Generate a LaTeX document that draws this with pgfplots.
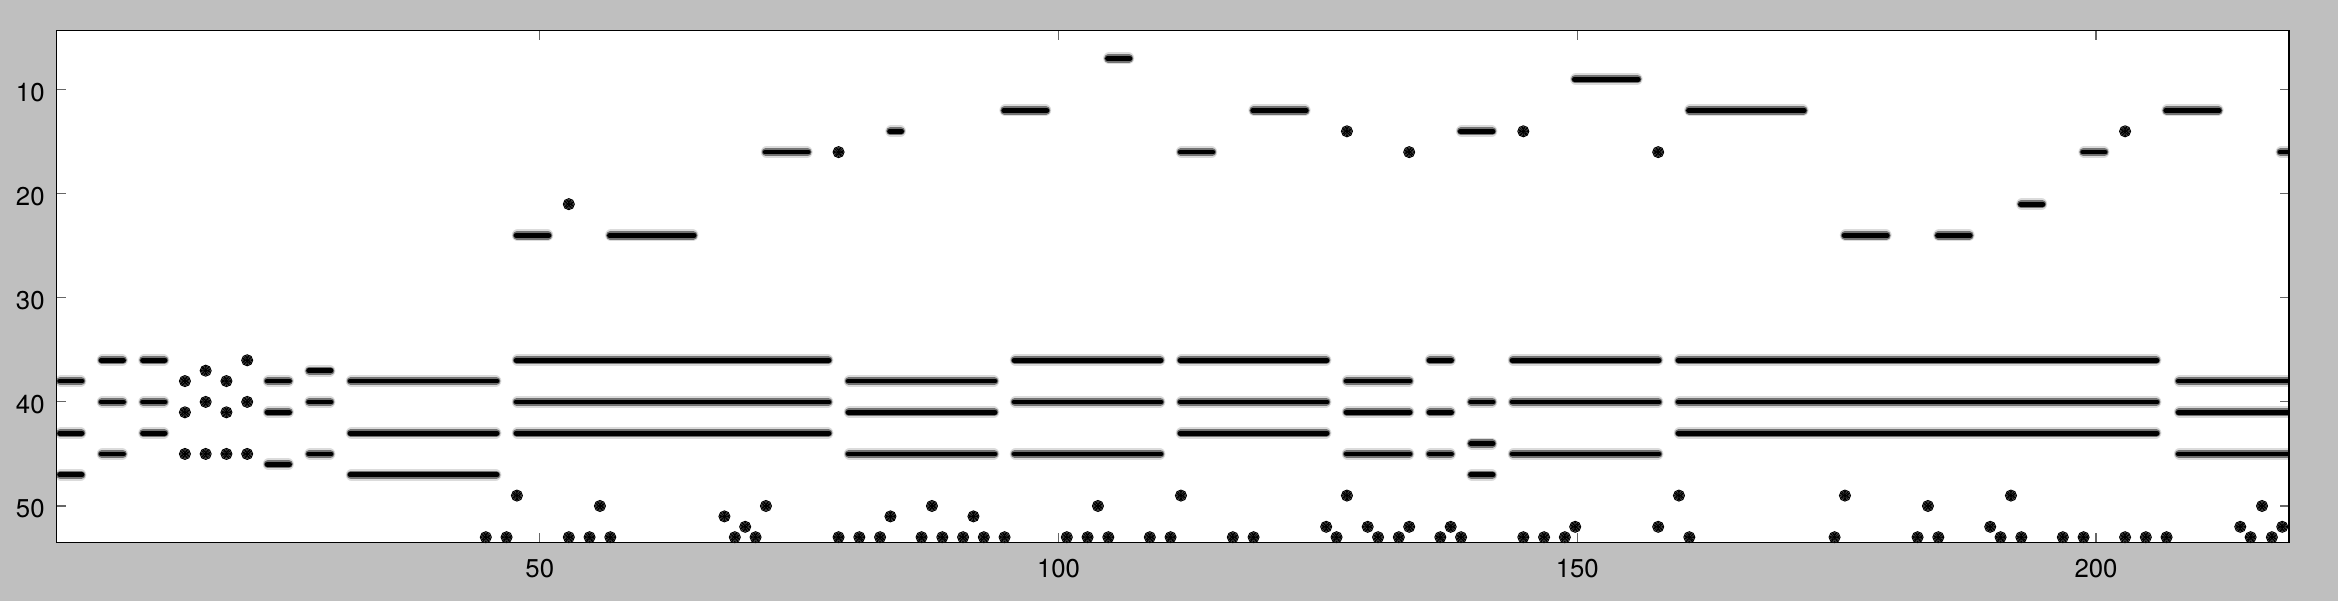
\documentclass[border=0pt]{standalone}
\usepackage{fontspec}
\setmainfont{TeX Gyre Heros}
\usepackage{pgfplots}
\usepackage{pgfplotstable}
\pgfplotsset{compat=1.18}
\definecolor{bggray}{HTML}{BFBFBF}

% note bars: start edge s, end edge e, pitch row y
\pgfplotstableread{
s e y
3.3 6.3 38
3.3 6.3 43
3.3 6.3 47
7.3 10.3 36
7.3 10.3 40
7.3 10.3 45
11.3 14.3 36
11.3 14.3 40
11.3 14.3 43
23.3 26.3 38
23.3 26.3 41
23.3 26.3 46
27.3 30.3 37
27.3 30.3 40
27.3 30.3 45
31.3 46.3 38
31.3 46.3 43
31.3 46.3 47
47.3 51.3 24
56.3 65.3 24
47.3 78.3 36
47.3 78.3 40
47.3 78.3 43
71.3 76.3 16
83.3 85.3 14
79.3 94.3 38
79.3 94.3 41
79.3 94.3 45
94.3 99.3 12
95.3 110.3 36
95.3 110.3 40
95.3 110.3 45
104.3 107.3 7
111.3 115.3 16
111.3 126.3 36
111.3 126.3 40
111.3 126.3 43
118.3 124.3 12
127.3 134.3 38
127.3 134.3 41
127.3 134.3 45
135.3 138.3 36
135.3 138.3 41
135.3 138.3 45
138.3 142.3 14
139.3 142.3 40
139.3 142.3 44
139.3 142.3 47
143.3 158.3 36
143.3 158.3 40
143.3 158.3 45
149.3 156.3 9
159.3 206.3 36
159.3 206.3 40
159.3 206.3 43
160.3 172.3 12
175.3 180.3 24
184.3 188.3 24
192.3 195.3 21
198.3 201.3 16
206.3 212.3 12
207.5 220 38
207.5 220 41
207.5 220 45
217.3 220 16
}\bars

% single-step notes: x, pitch row y
\pgfplotstableread{
x y
15.8 38
15.8 41
15.8 45
17.8 37
17.8 40
17.8 45
19.8 38
19.8 41
19.8 45
21.8 36
21.8 40
21.8 45
47.8 49
52.8 21
55.8 50
67.8 51
69.8 52
71.8 50
78.8 16
83.8 51
87.8 50
91.8 51
103.8 50
111.8 49
125.8 52
127.8 14
127.8 49
129.8 52
133.8 16
133.8 52
137.8 52
144.8 14
149.8 52
157.8 16
157.8 52
159.8 49
175.8 49
183.8 50
189.8 52
191.8 49
202.8 14
213.9 52
216.0 50
217.95 52
44.8 53
46.8 53
52.8 53
54.8 53
56.8 53
68.8 53
70.8 53
78.8 53
80.8 53
82.8 53
86.8 53
88.8 53
90.8 53
92.8 53
94.8 53
100.8 53
102.8 53
104.8 53
108.8 53
110.8 53
116.8 53
118.8 53
126.8 53
130.8 53
132.8 53
136.8 53
138.8 53
144.8 53
146.8 53
148.8 53
160.8 53
174.8 53
182.8 53
184.8 53
190.8 53
192.8 53
196.8 53
198.8 53
202.8 53
204.8 53
206.8 53
214.9 53
216.95 53
}\dots

\pgfplotsset{
  barlayer/.style n args={2}{mark=none, draw=none, forget plot,
    error bars/.cd, x dir=both, x explicit, error mark=none,
    error bar style={draw=#2, line width=#1, line cap=round}},
  dotlayer/.style n args={2}{only marks, mark=*, mark size=#1, forget plot,
    mark options={draw=none, fill=#2}},
}

\begin{document}
\begin{tikzpicture}
\path[use as bounding box, fill=bggray] (-22.68pt,-23.44pt) rectangle (912.5pt,216.96pt);
\begin{axis}[
  at={(0,0)}, anchor=south west,
  scale only axis, width=892.9pt, height=204.7pt,
  xmin=3.44, xmax=218.6, ymin=4.33, ymax=53.5, y dir=reverse,
  xtick={50,100,150,200}, ytick={10,20,30,40,50},
  tick align=inside, major tick length=3.6pt,
  tick style={color=black!60, line width=0.45pt},
  axis line style={line width=0.6pt, black},
  axis background/.style={fill=white},
  axis on top,
  /pgf/number format/assume math mode=true,
  tick label style={font=\fontsize{10.3}{12}\selectfont, black},
  xticklabel style={yshift=-3pt},
  yticklabel style={xshift=-1.3pt, yshift=-1pt},
]
\addplot[barlayer={4.8pt}{black!14}] table[x expr={(\thisrow{s}+\thisrow{e})/2}, y=y, x error expr={(\thisrow{e}-\thisrow{s})/2-0.58}] \bars;
\addplot[barlayer={3.3pt}{black!55}] table[x expr={(\thisrow{s}+\thisrow{e})/2}, y=y, x error expr={(\thisrow{e}-\thisrow{s})/2-0.49}] \bars;
\addplot[barlayer={1.9pt}{black}] table[x expr={(\thisrow{s}+\thisrow{e})/2}, y=y, x error expr={(\thisrow{e}-\thisrow{s})/2-0.42}] \bars;
\addplot[dotlayer={2.2pt}{black!10}] table[x=x, y=y] \dots;
\addplot[dotlayer={1.7pt}{black!28}] table[x=x, y=y] \dots;
\addplot[dotlayer={1.2pt}{black!60}] table[x=x, y=y] \dots;
\addplot[dotlayer={0.75pt}{black}] table[x=x, y=y] \dots;
\end{axis}
\end{tikzpicture}
\end{document}
